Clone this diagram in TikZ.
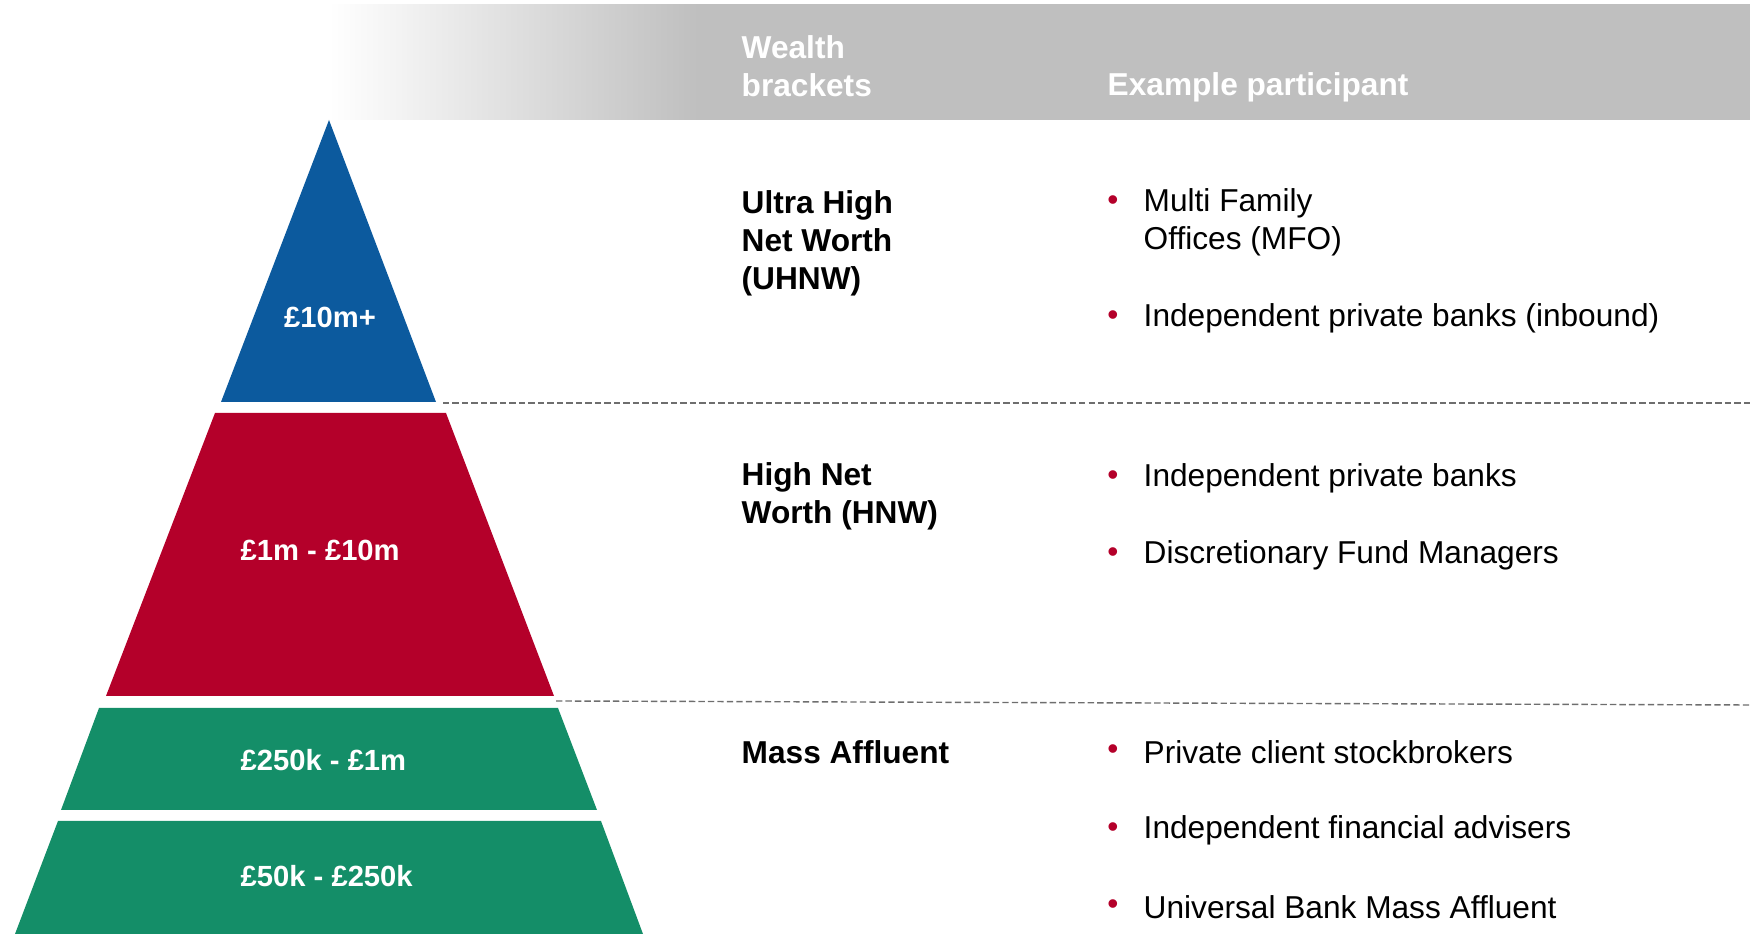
\documentclass[tikz,border=0pt]{standalone}
\usepackage{fontspec}
\setmainfont{Liberation Sans}

\definecolor{uhnwblue}{HTML}{0C5A9E}
\definecolor{hnwred}{HTML}{B4002A}
\definecolor{massgreen}{HTML}{148E68}
\definecolor{bandgray}{HTML}{BFBFBF}
\definecolor{rulegray}{HTML}{6E6E6E}

% white fade into the grey header band
\pgfdeclarehorizontalshading{bandfade}{100bp}{color(0bp)=(white); color(25bp)=(white); color(38bp)=(bandgray); color(100bp)=(bandgray)}

\tikzset{
  txt/.style={font=\fontsize{9}{10.8}\selectfont, inner sep=0pt, anchor=west, align=left},
  bold/.style={txt, font=\bfseries\fontsize{9}{10.8}\selectfont},
  head/.style={bold, text=white},
  tier/.style={txt, font=\bfseries\fontsize{8.3}{10}\selectfont, text=white},
  dot/.style={txt, anchor=center, text=hnwred},
  split/.style={rulegray, line width=0.4pt, dash pattern=on 1.8pt off 0.9pt}
}

\begin{document}
\begin{tikzpicture}[x=0.01cm, y=-0.01cm]
                \useasboundingbox (0, 0) rectangle (1750, 934);
                % header band
                \shade [shading=bandfade] (329, 5) rectangle (1750, 120);
                \node [head] (hbrk) at (741, 66) {Wealth\\brackets};
                \node [head] (hpart) at (1107, 87) {Example participant};
                % pyramid
                \fill [uhnwblue] (329, 120) -- (436, 402) -- (221, 402) -- cycle;
                \fill [hnwred] (215, 413) -- (446, 413) -- (554, 696) -- (106, 696) -- cycle;
                \fill [massgreen] (99, 708) -- (558, 708) -- (597, 810) -- (61, 810) -- cycle;
                \fill [massgreen] (58, 821) -- (601, 821) -- (643, 934) -- (15, 934) -- cycle;
                \node [tier, anchor=center] (t1) at (330, 317) {£10m+};
                \node [tier] (t2) at (240, 550) {£1m - £10m};
                \node [tier] (t3) at (240, 760) {£250k - £1m};
                \node [tier] (t4) at (240, 876) {£50k - £250k};
                % dividers
                \coordinate (d1a) at (443, 403);
                \coordinate (d1b) at (1750, 403);
                \coordinate (d2a) at (556, 701);
                \coordinate (d2b) at (1750, 705);
                \draw [split] (d1a) -- (d1b);
                \draw [split] (d2a) -- (d2b);
                % brackets
                \node [bold] (uhnw) at (741, 243) {Ultra High\\Net Worth\\(UHNW)};
                \node [bold] (hnw) at (741, 496) {High Net\\Worth (HNW)};
                \node [bold] (mass) at (741, 752) {Mass Affluent};
                % participants
                \node [dot] (b1) at (1113, 203) {•};
                \node [txt] (p1) at (1143, 222) {Multi Family\\Offices (MFO)};
                \node [dot] (b2) at (1113, 318) {•};
                \node [txt] (p2) at (1143, 318) {Independent private banks (inbound)};
                \node [dot] (b3) at (1113, 478) {•};
                \node [txt] (p3) at (1143, 478) {Independent private banks};
                \node [dot] (b4) at (1113, 555) {•};
                \node [txt] (p4) at (1143, 555) {Discretionary Fund Managers};
                \node [dot] (b5) at (1113, 752) {•};
                \node [txt] (p5) at (1143, 752) {Private client stockbrokers};
                \node [dot] (b6) at (1113, 830) {•};
                \node [txt] (p6) at (1143, 830) {Independent financial advisers};
                \node [dot] (b7) at (1113, 907) {•};
                \node [txt] (p7) at (1143, 907) {Universal Bank Mass Affluent};
            \end{tikzpicture}
\end{document}
